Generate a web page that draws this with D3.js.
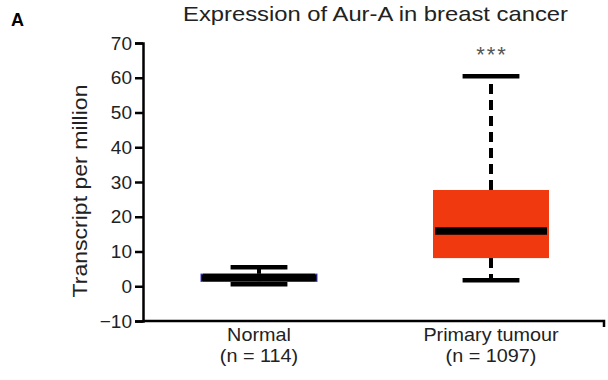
<!DOCTYPE html>
<html>
<head>
<meta charset="utf-8">
<script src="https://cdn.jsdelivr.net/npm/d3@7"></script>
<style>
  body { margin: 0; background: #fff; }
  text { font-family: "Liberation Sans", Arial, sans-serif; }
</style>
</head>
<body>
<div id="chart"></div>
<script>
// Data
const groups = ['Normal', 'Primary tumour'];
const sampleSizes = ['(n = 114)', '(n = 1097)'];
const whiskerLow = [0.6, 1.7];
const q1 = [1.4, 8.1];
const medians = [2.5, 15.9];
const q3 = [3.5, 27.7];
const whiskerHigh = [5.5, 60.4];
const yTicks = [-10, 0, 10, 20, 30, 40, 50, 60, 70];
const boxColors = ['#000000', '#f0390f'];
const boxStrokes = ['#3a3ad0', 'none'];
const significance = ['', '***'];

const width = 608, height = 380;

const svg = d3.select('#chart')
  .append('svg')
    .attr('width', width)
    .attr('height', height);

// Scales
const x = d3.scaleBand()
  .domain(groups)
  .range([143, 607])
  .padding(0);

const y = d3.scaleLinear()
  .domain([-10, 70])
  .range([321, 43]);

const bw = x.bandwidth();

// Panel letter and title
svg.append('text')
  .attr('x', 11).attr('y', 26)
  .attr('font-size', 18).attr('font-weight', 'bold')
  .attr('font-family', '"DejaVu Sans Condensed", "Liberation Sans Narrow", sans-serif')
  .text('A');

svg.append('text')
  .attr('x', 183).attr('y', 21)
  .attr('font-size', 21)
  .attr('fill', '#222')
  .attr('textLength', 385)
  .attr('lengthAdjust', 'spacingAndGlyphs')
  .text('Expression of Aur-A in breast cancer');

// Y axis
const yAxis = svg.append('g')
  .attr('transform', 'translate(143,0)')
  .call(d3.axisLeft(y).tickValues(yTicks).tickSize(8).tickPadding(3)
    .tickFormat(d => d < 0 ? '\u2212' + Math.abs(d) : d));
yAxis.select('.domain').attr('stroke-width', 2.5).attr('stroke', '#000');
yAxis.selectAll('.tick line').attr('stroke-width', 2.5).attr('stroke', '#000');
yAxis.selectAll('.tick text').attr('font-size', 19).attr('fill', '#222')
  .attr('font-family', '"Liberation Sans", Arial, sans-serif');

svg.append('text')
  .attr('transform', 'translate(87,' + 191 + ') rotate(-90)')
  .attr('text-anchor', 'middle')
  .attr('font-size', 20.5)
  .attr('fill', '#222')
  .attr('textLength', 213)
  .attr('lengthAdjust', 'spacingAndGlyphs')
  .text('Transcript per million');

// X axis
const xAxis = svg.append('g')
  .attr('transform', 'translate(0,' + y(-10) + ')')
  .call(d3.axisBottom(x).tickSize(0).tickFormat(''));
xAxis.select('.domain').attr('stroke-width', 2.5).attr('stroke', '#000')
  .attr('d', 'M143,0H604V6');

groups.forEach((g, i) => {
  const cx = x(g) + bw / 2;
  svg.append('text')
    .attr('x', cx).attr('y', 341)
    .attr('text-anchor', 'middle')
    .attr('font-size', 18)
    .attr('fill', '#222')
    .attr('transform', 'translate(' + cx + ',0) scale(1.1,1) translate(' + (-cx) + ',0)')
    .text(g);
  svg.append('text')
    .attr('x', cx).attr('y', 362)
    .attr('text-anchor', 'middle')
    .attr('font-size', 18)
    .attr('fill', '#222')
    .attr('transform', 'translate(' + cx + ',0) scale(1.1,1) translate(' + (-cx) + ',0)')
    .text(sampleSizes[i]);
});

// Boxes
const boxW = bw * 0.5;
const capW = bw * 0.245;

groups.forEach((g, i) => {
  const cx = x(g) + bw / 2;
  const box = svg.append('g');

  // whiskers
  box.append('line')
    .attr('x1', cx).attr('x2', cx)
    .attr('y1', y(q3[i])).attr('y2', y(whiskerHigh[i]))
    .attr('stroke', '#000').attr('stroke-width', 4)
    .attr('stroke-dasharray', i === 1 ? '10,6' : null);
  box.append('line')
    .attr('x1', cx).attr('x2', cx)
    .attr('y1', y(q1[i])).attr('y2', y(whiskerLow[i]))
    .attr('stroke', '#000').attr('stroke-width', 4)
    .attr('stroke-dasharray', i === 1 ? '10,6' : null);

  // caps
  [whiskerHigh[i], whiskerLow[i]].forEach(v => {
    box.append('line')
      .attr('x1', cx - capW / 2).attr('x2', cx + capW / 2)
      .attr('y1', y(v)).attr('y2', y(v))
      .attr('stroke', '#000').attr('stroke-width', 4.5);
  });

  // box
  box.append('rect')
    .attr('x', cx - boxW / 2)
    .attr('width', boxW)
    .attr('y', y(q3[i]))
    .attr('height', y(q1[i]) - y(q3[i]))
    .attr('fill', boxColors[i])
    .attr('stroke', boxStrokes[i])
    .attr('stroke-width', 1);

  // median
  box.append('line')
    .attr('x1', cx - boxW / 2 + 2).attr('x2', cx + boxW / 2 - 2)
    .attr('y1', y(medians[i])).attr('y2', y(medians[i]))
    .attr('stroke', '#000').attr('stroke-width', 7.5);

  if (significance[i]) {
    svg.append('text')
      .attr('x', cx + 1).attr('y', y(whiskerHigh[i]) - 14)
      .attr('text-anchor', 'middle')
      .attr('font-size', 22)
      .attr('letter-spacing', 2)
      .attr('fill', '#555')
      .text(significance[i]);
  }
});
</script>
</body>
</html>
